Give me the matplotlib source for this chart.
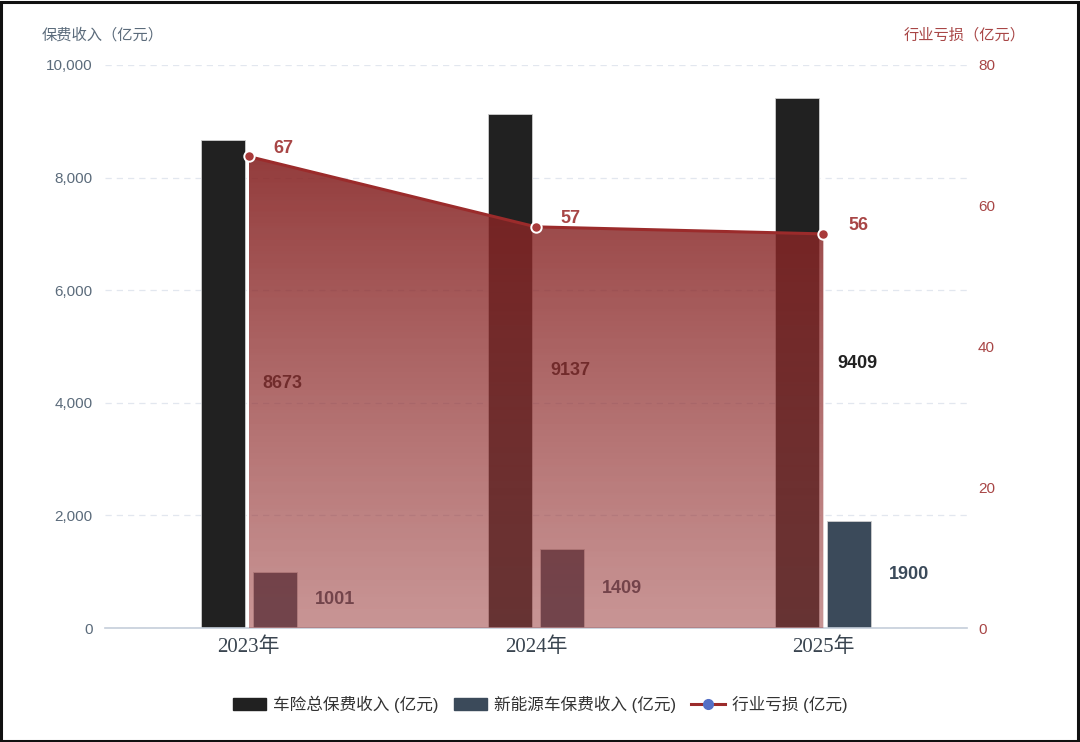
import numpy as np
import matplotlib
matplotlib.use('Agg')
import matplotlib.pyplot as plt
from matplotlib.patches import Patch, Polygon, Rectangle
from matplotlib.lines import Line2D
from matplotlib.colors import LinearSegmentedColormap

plt.rcParams['font.family'] = ['Liberation Sans', 'Noto Sans CJK SC']

# data
years = ['2023年', '2024年', '2025年']
total_premium = [8673, 9137, 9409]   # 车险总保费收入 (亿元)
nev_premium = [1001, 1409, 1900]     # 新能源车保费收入 (亿元)
industry_loss = [67, 57, 56]         # 行业亏损 (亿元)

c_total = '#212121'
c_nev = '#3b4a5a'
c_loss = '#9b2b2b'
c_loss_txt = '#a84646'
c_axis_txt = '#5b6b7b'

fig = plt.figure(figsize=(10.8, 7.42), dpi=100)
ax = fig.add_axes([105 / 1080, 1 - 628 / 742, 862 / 1080, 563 / 742])
ax2 = ax.twinx()

x = np.arange(len(years))
w = 0.153
off = 0.09

# bars
ax.bar(x - off, total_premium, w, color=c_total, edgecolor='#cfcfcf', linewidth=0.6, zorder=2)
ax.bar(x + off, nev_premium, w, color=c_nev, edgecolor='#cfcfcf', linewidth=0.6, zorder=2)

# bar labels at right side, middle height
for xi, v in zip(x, total_premium):
    ax.annotate(str(v), (xi - off + w / 2, v / 2), xytext=(13, 0), textcoords='offset points',
                ha='left', va='center', fontsize=13, fontweight='bold', color=c_total, zorder=3)
for xi, v in zip(x, nev_premium):
    ax.annotate(str(v), (xi + off + w / 2, v / 2), xytext=(13, 0), textcoords='offset points',
                ha='left', va='center', fontsize=13, fontweight='bold', color=c_nev, zorder=3)

ax.set_xlim(-0.5, 2.5)
ax.set_ylim(0, 10000)
ax.set_yticks(np.arange(0, 10001, 2000))
ax.set_yticklabels([f'{t:,}' for t in range(0, 10001, 2000)])
ax.grid(axis='y', linestyle=(0, (5, 4)), color='#e2e7ef', linewidth=0.9, zorder=0)
ax.set_axisbelow(True)
ax.set_xticks(x)
ax.set_xticklabels(years, family=['Liberation Serif', 'Noto Sans CJK SC'], fontsize=15, color='#3a4550')
ax.tick_params(axis='x', length=0, pad=7)
ax.tick_params(axis='y', length=0, pad=9, labelsize=11, labelcolor=c_axis_txt)
for s in ['top', 'right', 'left']:
    ax.spines[s].set_visible(False)
ax.spines['bottom'].set_color('#c5ceda')
ax.spines['bottom'].set_linewidth(1.2)

# loss area with vertical gradient
ax2.set_ylim(0, 80)
ax2.set_yticks(np.arange(0, 81, 20))
ax2.tick_params(axis='y', length=0, pad=8, labelsize=11, labelcolor=c_loss_txt)
for s in ['top', 'right', 'left', 'bottom']:
    ax2.spines[s].set_visible(False)

top = max(industry_loss)
cmap = LinearSegmentedColormap.from_list('lossgrad', [(0.62, 0.26, 0.26, 0.56), (0.52, 0.13, 0.13, 0.88)])
grad = np.linspace(0, 1, 256).reshape(-1, 1)
img = ax2.imshow(grad, cmap=cmap, origin='lower', aspect='auto',
                 extent=[x[0], x[-1], 0, top], zorder=2, interpolation='bicubic')
verts = [(x[0], 0)] + list(zip(x, industry_loss)) + [(x[-1], 0)]
poly = Polygon(verts, closed=True, facecolor='none', edgecolor='none', transform=ax2.transData)
ax2.add_patch(poly)
img.set_clip_path(poly)
ax2.set_xlim(-0.5, 2.5)

ax2.plot(x, industry_loss, color=c_loss, linewidth=2.2, zorder=4)
ax2.plot(x, industry_loss, 'o', markersize=7.5, markerfacecolor='#a83a3a',
         markeredgecolor='white', markeredgewidth=1.4, zorder=5)
for xi, v in zip(x, industry_loss):
    ax2.annotate(str(v), (xi, v), xytext=(25, 6), textcoords='offset points',
                 ha='center', va='center', fontsize=13, fontweight='bold', color=c_loss_txt, zorder=6)

# axis titles
fig.text(42 / 1080, 1 - 35 / 742, '保费收入（亿元）', ha='left', va='center', fontsize=11,
         color=c_axis_txt, family=['Noto Sans CJK SC'])
fig.text(1026 / 1080, 1 - 35 / 742, '行业亏损（亿元）', ha='right', va='center', fontsize=11,
         color=c_loss_txt, family=['Noto Sans CJK SC'])

# legend
handles = [
    Patch(facecolor=c_total, edgecolor=c_total, label='车险总保费收入 (亿元)'),
    Patch(facecolor=c_nev, edgecolor=c_nev, label='新能源车保费收入 (亿元)'),
    Line2D([0], [0], color=c_loss, linewidth=2.2, marker='o', markersize=7,
           markerfacecolor='#5470c6', markeredgecolor='#5470c6', label='行业亏损 (亿元)'),
]
fig.legend(handles=handles, loc='center', bbox_to_anchor=(0.5, 1 - 704 / 742), ncol=3,
           frameon=False, fontsize=12, handlelength=2.0, handleheight=0.8,
           handletextpad=0.42, columnspacing=0.9, labelcolor='#333333')

# outer frame
fig.patches.append(Rectangle((0.001, 0.002), 0.997, 0.995, transform=fig.transFigure,
                             fill=False, edgecolor='#111111', linewidth=2.2))

fig.savefig('out.png', dpi=100)
